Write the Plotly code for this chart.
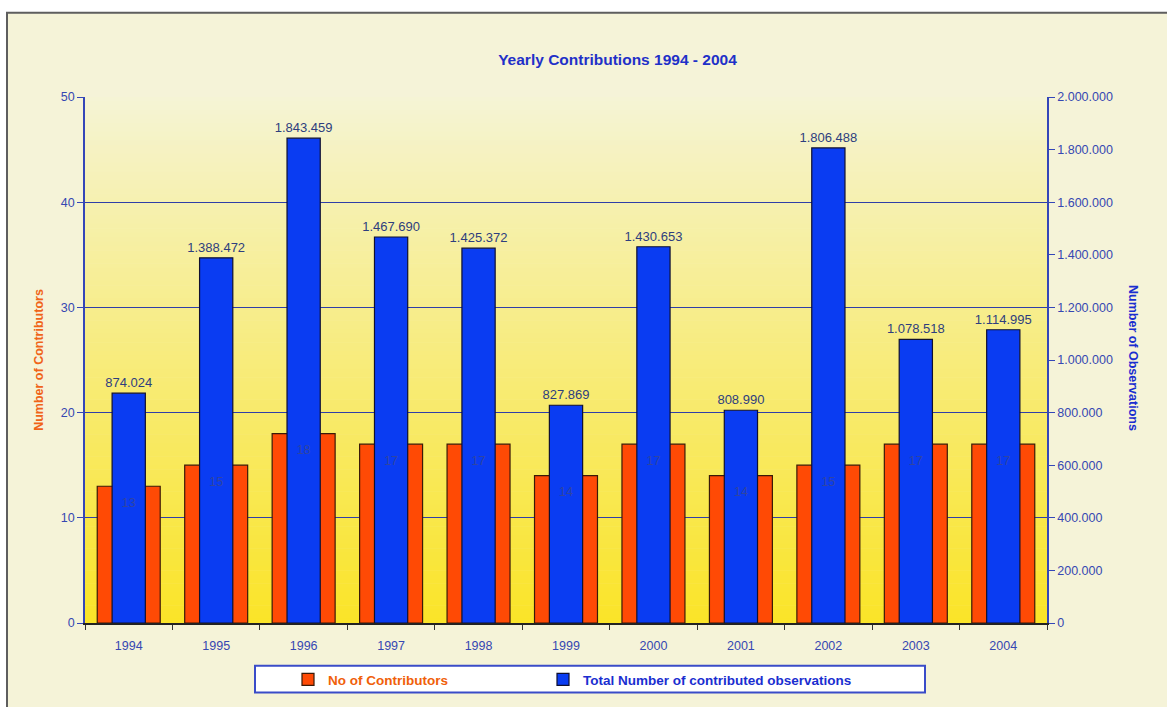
import plotly.graph_objects as go

# ---- data -------------------------------------------------------------
years = ["1994", "1995", "1996", "1997", "1998", "1999",
         "2000", "2001", "2002", "2003", "2004"]
contributors = [13, 15, 18, 17, 17, 14, 17, 14, 15, 17, 17]
observations = [874024, 1388472, 1843459, 1467690, 1425372, 827869,
                1430653, 808990, 1806488, 1078518, 1114995]

# ---- geometry (pixels) ------------------------------------------------
W, H = 1167, 707
L, R, T, B = 85, 1047, 97, 627          # plot-area edges
PW, PH = R - L, B - T


def px(x):
    return (x - L) / PW


def py(y):
    return (B - y) / PH


ORANGE = "#FF4A05"
BLUE = "#0A3CF2"
AXIS_BLUE = "#3446B8"
TICK_BLUE = "#3647B2"
LABEL_BLUE = "#2E3E7E"
FONT = "Liberation Sans, Arial, sans-serif"

fig = go.Figure()

fig.add_trace(go.Bar(
    x=years, y=contributors,
    name="<b><span style='color:#F0600A'>No of Contributors</span></b>",
    yaxis="y", width=0.72, legend="legend",
    marker=dict(color=ORANGE, line=dict(color="#3A1A08", width=1.2)),
    hoverinfo="x+y",
))

fig.add_trace(go.Bar(
    x=years, y=observations,
    name="<b><span style='color:#1A2ED0'>Total Number of contributed observations</span></b>",
    yaxis="y2", width=0.38, legend="legend2",
    marker=dict(color=BLUE, line=dict(color="#101030", width=1.2)),
    texttemplate="%{y:,.0f}", textposition="outside", constraintext="none",
    textfont=dict(color=LABEL_BLUE, size=13, family=FONT),
    cliponaxis=False,
))

# contributor counts written just under the top of each orange bar
fig.add_trace(go.Scatter(
    x=years, y=contributors, yaxis="y3", mode="markers+text",
    marker=dict(size=16, color="rgba(0,0,0,0)"),
    text=[str(v) for v in contributors], textposition="bottom center",
    textfont=dict(color="rgba(58,72,140,0.8)", size=12.5, family=FONT),
    showlegend=False, hoverinfo="skip",
))

# ---- background: frame + vertical cream-to-yellow gradient ------------
shapes = [dict(
    type="rect", xref="paper", yref="paper",
    x0=px(7), x1=px(W + 10), y0=py(H + 10), y1=py(12),
    line=dict(color="#5E5E5E", width=2), fillcolor="#F5F3D8", layer="below",
)]

top_rgb = (245, 244, 214)
bot_rgb = (250, 228, 40)
n = 120
for i in range(n):
    t = (i + 0.5) / n                      # 0 at top, 1 at bottom
    f = t ** 0.95
    c = tuple(round(a + (b - a) * f) for a, b in zip(top_rgb, bot_rgb))
    shapes.append(dict(
        type="rect", xref="paper", yref="paper",
        x0=0, x1=1, y0=1 - (i + 1) / n - 0.0005, y1=1 - i / n + 0.0005,
        line=dict(width=0), fillcolor="rgb(%d,%d,%d)" % c, layer="below",
    ))

# legend box
shapes.append(dict(
    type="rect", xref="paper", yref="paper",
    x0=px(255), x1=px(925), y0=py(697), y1=py(670),
    line=dict(color="#3A4CC8", width=2), fillcolor="white", layer="below",
))

legend_common = dict(
    orientation="h", yanchor="middle", y=py(684), xanchor="left",
    bgcolor="rgba(0,0,0,0)", borderwidth=0,
    font=dict(size=13.5, family=FONT),
)

fig.update_layout(
    width=W, height=H,
    margin=dict(l=L, r=W - R, t=T, b=H - B),
    paper_bgcolor="white",
    plot_bgcolor="rgba(0,0,0,0)",
    separators=",.",
    barmode="overlay",
    font=dict(family=FONT, color=TICK_BLUE, size=12),
    title=dict(
        text="<b>Yearly Contributions 1994 - 2004</b>",
        x=px(594), xanchor="center", y=1 - 60 / H, yanchor="middle",
        font=dict(size=15.5, color="#1F30C8", family=FONT),
    ),
    xaxis=dict(
        type="category", tickson="boundaries", ticks="outside", ticklen=5,
        tickcolor="#333333", showline=True, linecolor="#222222", linewidth=1.5,
        showgrid=False, tickfont=dict(color=TICK_BLUE, size=12.5),
        ticklabelstandoff=10, range=[-0.5, 10.5],
    ),
    yaxis=dict(
        range=[0, 50], dtick=10, ticks="outside", ticklen=6,
        tickcolor=AXIS_BLUE, showline=True, linecolor=AXIS_BLUE, linewidth=1.5,
        showgrid=True, gridcolor="#2F3EA8", gridwidth=1, zeroline=False,
        tickfont=dict(color=TICK_BLUE, size=12.5),
        title=dict(text="<b>Number of Contributors</b>",
                   font=dict(color="#F06418", size=12.5), standoff=14),
    ),
    yaxis2=dict(
        range=[0, 2000000], dtick=200000, overlaying="y", side="right",
        tickformat=",.0f", ticks="outside", ticklen=6, tickcolor=AXIS_BLUE,
        showline=True, linecolor=AXIS_BLUE, linewidth=1.5,
        showgrid=False, zeroline=False,
        tickfont=dict(color=TICK_BLUE, size=12.5),
    ),
    yaxis3=dict(range=[0, 50], overlaying="y", visible=False),
    legend=dict(legend_common, x=px(288)),
    legend2=dict(legend_common, x=px(543)),
    annotations=[dict(
        text="<b>Number of Observations</b>", textangle=90,
        xref="paper", yref="paper", x=px(1142), y=py(360),
        showarrow=False, font=dict(color="#1A2ED0", size=12.5, family=FONT),
    )],
    shapes=shapes,
    showlegend=True,
)

fig.write_html("out.html")
